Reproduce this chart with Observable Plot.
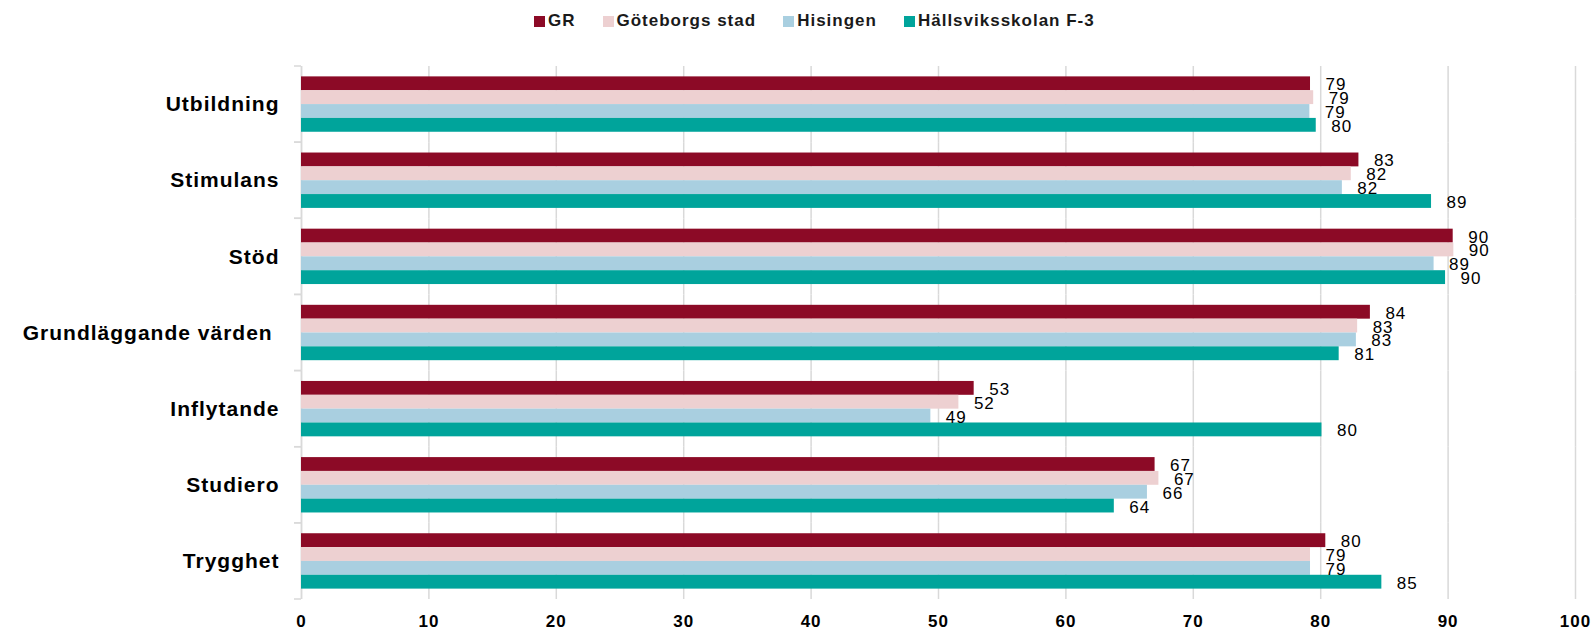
<!DOCTYPE html>
<html>
<head>
<meta charset="utf-8">
<script src="https://cdn.jsdelivr.net/npm/d3@7"></script>
<script src="https://cdn.jsdelivr.net/npm/@observablehq/plot@0.6"></script>
<style>
  html, body { margin: 0; padding: 0; background: #fff; }
  body { font-family: "Liberation Sans", Arial, sans-serif; width: 1595px; height: 630px; overflow: hidden; }
  #legend { position: relative; height: 40px; }
  #legend .items { position: absolute; left: 534px; top: 11px; height: 20px; display: flex; align-items: center; gap: 27px; }
  #legend .item { display: flex; align-items: center; gap: 3px; font-size: 17px; font-weight: bold; letter-spacing: 1px; color: #1a1a1a; white-space: nowrap; }
  #legend .sw { width: 11px; height: 11px; display: inline-block; }
  #chart svg text { letter-spacing: 1px; }
  #chart svg g[aria-label="category-labels"] text { letter-spacing: 1.5px; }
  #chart svg g[aria-label="value-labels"] text { letter-spacing: 1.5px; }
</style>
</head>
<body>
<div id="legend"><div class="items"></div></div>
<div id="chart"></div>
<script>
// ---- data ----
const categories = ["Utbildning", "Stimulans", "Stöd", "Grundläggande värden", "Inflytande", "Studiero", "Trygghet"];
const seriesNames = ["GR", "Göteborgs stad", "Hisingen", "Hällsviksskolan F-3"];
const valuesGR       = [79.2, 83.0, 90.4, 83.9, 52.8, 67.0, 80.4];
const valuesGoteborg = [79.45, 82.4, 90.45, 82.9, 51.6, 67.3, 79.2];
const valuesHisingen = [79.15, 81.7, 88.9, 82.8, 49.4, 66.4, 79.2];
const valuesHallsvik = [79.65, 88.7, 89.8, 81.45, 80.1, 63.8, 84.8];
const xTicks = [0, 10, 20, 30, 40, 50, 60, 70, 80, 90, 100];
const seriesColors = ["#8C0A26", "#EDD0D1", "#A9CFE0", "#00A49B"];

const seriesValues = [valuesGR, valuesGoteborg, valuesHisingen, valuesHallsvik];
const data = [];
categories.forEach((c, i) => {
  seriesNames.forEach((s, j) => {
    data.push({category: c, series: s, value: seriesValues[j][i]});
  });
});

// ---- legend ----
const items = document.querySelector("#legend .items");
seriesNames.forEach((s, j) => {
  const it = document.createElement("div");
  it.className = "item";
  const sw = document.createElement("span");
  sw.className = "sw";
  sw.style.background = seriesColors[j];
  const lab = document.createElement("span");
  lab.textContent = s;
  it.appendChild(sw);
  it.appendChild(lab);
  items.appendChild(it);
});

// small ticks on the category axis at band boundaries
function bandBoundaryTicks(index, scales, values, dims) {
  const g = d3.create("svg:g").attr("aria-label", "band-ticks");
  const x0 = scales.x(0);
  const ys = [dims.marginTop, dims.height - dims.marginBottom];
  for (const y of ys) {
    g.append("line")
      .attr("x1", x0 - 7).attr("x2", x0)
      .attr("y1", y).attr("y2", y)
      .attr("stroke", "#d9d9d9").attr("stroke-width", 1.5);
  }
  return g.node();
}

const chart = Plot.plot({
  width: 1595,
  height: 590,
  marginTop: 26,
  marginBottom: 31,
  marginLeft: 301,
  marginRight: 20,
  style: {fontFamily: "Liberation Sans, Arial, sans-serif", color: "#000", background: "#fff"},
  x: {domain: [0, 100], axis: null},
  y: {domain: seriesNames, paddingInner: 0, paddingOuter: 0.75, round: false, axis: null},
  fy: {domain: categories, padding: 0, round: false, axis: null},
  color: {domain: seriesNames, range: seriesColors},
  marks: [
    Plot.gridX(xTicks, {stroke: "#d9d9d9", strokeOpacity: 1, strokeWidth: 1.5}),
    Plot.ruleX([0], {stroke: "#d9d9d9", strokeWidth: 1.5}),
    bandBoundaryTicks,
    Plot.barX(data, {x: "value", y: "series", fy: "category", fill: "series"}),
    Plot.text(data, {
      x: "value", y: "series", fy: "category",
      text: d => d3.format(".0f")(d.value),
      textAnchor: "start", dx: 15, dy: 1,
      fontSize: 17, fill: "#000",
      ariaLabel: "value-labels"
    }),
    Plot.axisFy({
      anchor: "left", tickSize: 0, tickPadding: 22, label: null,
      fontSize: 21, fontWeight: "bold", fill: "#000",
      tickFormat: d => d === "Grundläggande värden" ? d + "\u00a0" : d,
      ariaLabel: "category-labels"
    }),
    Plot.axisX(xTicks, {
      anchor: "bottom", tickSize: 0, tickPadding: 15, label: null,
      fontSize: 17, fontWeight: "bold", fill: "#000"
    })
  ]
});
document.getElementById("chart").appendChild(chart);
</script>
</body>
</html>
